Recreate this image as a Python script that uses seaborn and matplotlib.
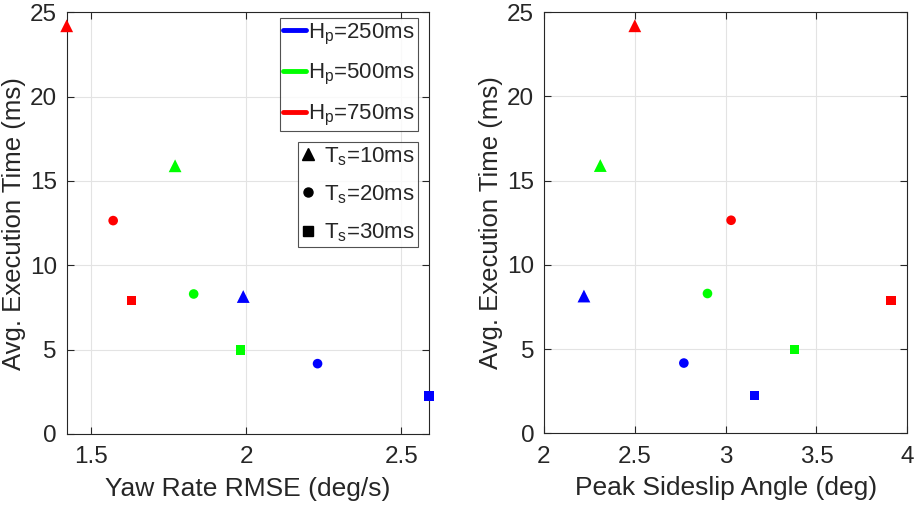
import matplotlib
matplotlib.use("Agg")
import matplotlib.pyplot as plt
import seaborn as sns
import pandas as pd
from matplotlib.lines import Line2D

# Prediction horizon / sample time configurations
horizon_ms = [250, 250, 250, 500, 500, 500, 750, 750, 750]
sample_ms = [10, 20, 30, 10, 20, 30, 10, 20, 30]

# Performance metrics per configuration
yaw_rate_rmse = [1.99, 2.23, 2.59, 1.77, 1.83, 1.98, 1.42, 1.57, 1.63]
peak_sideslip = [2.22, 2.77, 3.16, 2.31, 2.90, 3.38, 2.50, 3.03, 3.91]
exec_time = [8.15, 4.17, 2.25, 15.9, 8.3, 4.98, 24.2, 12.65, 7.9]

horizon_levels = [250, 500, 750]
sample_levels = [10, 20, 30]
y_ticks = [0, 5, 10, 15, 20, 25]
left_x_ticks = [1.5, 2.0, 2.5]
right_x_ticks = [2, 2.5, 3, 3.5, 4]
left_x_ticklabels = ["1.5", "2", "2.5"]
right_x_ticklabels = ["2", "2.5", "3", "3.5", "4"]

df = pd.DataFrame({
    "Hp": horizon_ms,
    "Ts": sample_ms,
    "yaw": yaw_rate_rmse,
    "beta": peak_sideslip,
    "t": exec_time,
})

palette = {250: (0, 0, 1), 500: (0, 1, 0), 750: (1, 0, 0)}
markers = {10: "^", 20: "o", 30: "s"}
sizes = {10: 85, 20: 48, 30: 44}

sns.set_style("white")
plt.rcParams["font.family"] = ["Liberation Sans", "DejaVu Sans"]
plt.rcParams["mathtext.fontset"] = "custom"
plt.rcParams["mathtext.rm"] = "Liberation Sans"

INK = "#262626"

fig = plt.figure(figsize=(9.15, 5.08), dpi=100)
ax1 = fig.add_axes([0.0729, 0.1457, 0.396, 0.8301])
ax2 = fig.add_axes([0.5945, 0.1471, 0.3971, 0.8287])


def draw(ax, xcol, xlim, xticks, xticklabels, xlabel):
    sns.scatterplot(data=df, x=xcol, y="t", hue="Hp", style="Ts", size="Ts",
                    palette=palette, markers=markers, sizes=sizes,
                    linewidth=0, legend=False, ax=ax, zorder=3)
    for coll in ax.collections:
        coll.set_clip_on(False)
    ax.set_xlim(*xlim)
    ax.set_ylim(0, 25)
    ax.set_xticks(xticks)
    ax.set_xticklabels(xticklabels)
    ax.set_yticks(y_ticks)
    ax.grid(True, color="#e3e3e3", linewidth=0.8)
    ax.set_axisbelow(True)
    for sp in ax.spines.values():
        sp.set_visible(True)
        sp.set_color(INK)
        sp.set_linewidth(0.8)
    ax.tick_params(direction="in", length=5, width=0.8, color=INK,
                   labelcolor=INK, labelsize=17.5, top=True, right=True,
                   bottom=True, left=True)
    ax.tick_params(axis="x", pad=9)
    ax.tick_params(axis="y", pad=7)
    ax.set_xlabel(xlabel, fontsize=19, color=INK, labelpad=6)
    ax.set_ylabel("Avg. Execution Time (ms)", fontsize=18.5, color=INK,
                  labelpad=3)


draw(ax1, "yaw", (min(yaw_rate_rmse), max(yaw_rate_rmse)), left_x_ticks,
     left_x_ticklabels, "Yaw Rate RMSE (deg/s)")
draw(ax2, "beta", (2, 4), right_x_ticks, right_x_ticklabels,
     "Peak Sideslip Angle (deg)")

# Legend for prediction horizon (colour)
hp_handles = [Line2D([0], [0], color=palette[h], lw=3.5) for h in horizon_levels]
hp_labels = [r"H$_{\mathregular{p}}$=%dms" % h for h in horizon_levels]
leg1 = ax1.legend(hp_handles, hp_labels, loc="upper right",
                  bbox_to_anchor=(0.9705, 0.9858), borderaxespad=0,
                  fontsize=16, frameon=True, fancybox=False,
                  handlelength=1.05, handletextpad=0.1, borderpad=0.15,
                  labelspacing=0.7, edgecolor=INK)
leg1.get_frame().set_linewidth(0.8)
ax1.add_artist(leg1)

# Legend for sample time (marker)
ts_handles = [Line2D([0], [0], color="black", lw=0, marker=markers[t],
                     markersize=9 if t == 10 else 6.5) for t in sample_levels]
ts_labels = [r"T$_{\mathregular{s}}$=%dms" % t for t in sample_levels]
leg2 = ax1.legend(ts_handles, ts_labels, loc="upper right",
                  bbox_to_anchor=(0.9705, 0.693), borderaxespad=0,
                  fontsize=16, frameon=True, fancybox=False,
                  handlelength=0.6, handletextpad=0.45, borderpad=0.15,
                  labelspacing=0.7, edgecolor=INK)
leg2.get_frame().set_linewidth(0.8)

fig.savefig("out.png", dpi=100)
